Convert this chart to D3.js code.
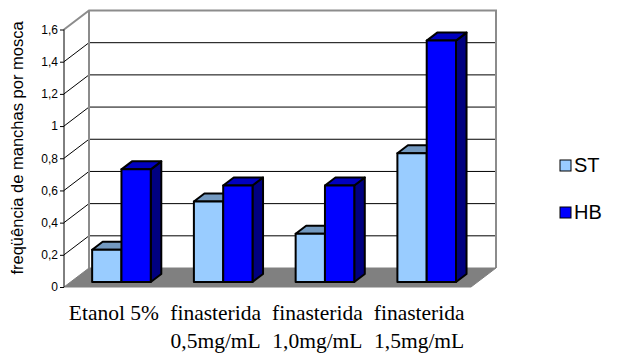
<!DOCTYPE html>
<html><head><meta charset="utf-8">
<script src="https://cdn.jsdelivr.net/npm/d3@7"></script>
<style>body{margin:0;background:#fff}svg{display:block}</style>
</head><body>
<svg id="c" width="619" height="354"></svg>
<script>
const categories = [["Etanol 5%"], ["finasterida","0,5mg/mL"], ["finasterida","1,0mg/mL"], ["finasterida","1,5mg/mL"]];
const seriesNames = ["ST", "HB"];
const stValues = [0.2, 0.5, 0.3, 0.8];
const hbValues = [0.7, 0.6, 0.6, 1.5];
const yTicks = [0, 0.2, 0.4, 0.6, 0.8, 1, 1.2, 1.4, 1.6];
const yTitle = "freqüência de manchas por mosca";

const colors = {
  ST: {front:"#99CCFF", top:"#7399C0", side:"#5B7A99"},
  HB: {front:"#0000FF", top:"#0000C0", side:"#000080"}
};
const values = {ST: stValues, HB: hbValues};

const svg = d3.select("#c");
const X0 = 64, X1 = 471;
const DEPTH = 19, DX = 25;
const kx = DX / DEPTH;
const x = d3.scaleBand().domain(d3.range(categories.length)).range([X0, X1]).padding(0);
const xi = d3.scaleBand().domain(seriesNames).range([0, x.bandwidth()]).paddingInner(0).paddingOuter(0.736);
const y = d3.scaleLinear().domain([0, 1.6]).range([287, 29.5]);
const P = (px, v, d) => [px + d * kx, y(v) - d];
const fmt = v => String(v).replace(".", ",");

// back wall
const wall = [P(X0,0,DEPTH), P(X0,1.6,DEPTH), P(X1,1.6,DEPTH), P(X1,0,DEPTH)];
svg.append("polygon").attr("points", wall.join(" ")).attr("fill", "#fff");
// gridlines on back wall
svg.selectAll(".grid").data(yTicks.filter(t => t > 0 && t < 1.6)).join("line")
  .attr("x1", d => P(X0,d,DEPTH)[0]).attr("y1", d => P(X0,d,DEPTH)[1])
  .attr("x2", d => P(X1,d,DEPTH)[0]).attr("y2", d => P(X1,d,DEPTH)[1])
  .attr("stroke", "#000").attr("stroke-width", 1);
// side wall diagonals
svg.selectAll(".diag").data(yTicks.filter(t => t > 0 && t < 1.6)).join("line")
  .attr("x1", d => P(X0,d,0)[0]).attr("y1", d => P(X0,d,0)[1])
  .attr("x2", d => P(X0,d,DEPTH)[0]).attr("y2", d => P(X0,d,DEPTH)[1])
  .attr("stroke", "#000").attr("stroke-width", 1);
// wall frame (gray)
const frame = [P(X0,1.6,0), P(X0,1.6,DEPTH), P(X1,1.6,DEPTH), P(X1,0,DEPTH)];
svg.append("polyline").attr("points", frame.join(" ")).attr("fill", "none")
  .attr("stroke", "#8c8c8c").attr("stroke-width", 2);
svg.append("line").attr("x1", P(X0,0,DEPTH)[0]).attr("y1", P(X0,0,DEPTH)[1])
  .attr("x2", P(X0,1.6,DEPTH)[0]).attr("y2", P(X0,1.6,DEPTH)[1])
  .attr("stroke", "#8c8c8c").attr("stroke-width", 2);
// floor
const floor = [P(X0,0,0), P(X0,0,DEPTH), P(X1,0,DEPTH), P(X1,0,0)];
svg.append("polygon").attr("points", floor.join(" ")).attr("fill", "#808080")
  .attr("stroke", "#808080").attr("stroke-width", 1);
// front axis
svg.append("line").attr("x1", X0).attr("x2", X0).attr("y1", y(1.6)).attr("y2", y(0))
  .attr("stroke", "#000").attr("stroke-width", 1);
const yAxis = d3.axisLeft(y).tickValues(yTicks).tickFormat(fmt).tickSize(4).tickPadding(2);
const ga = svg.append("g").attr("transform", `translate(${X0},0)`).call(yAxis);
ga.select(".domain").remove();
ga.selectAll("text").attr("font-family", "Liberation Sans, Arial, sans-serif").attr("font-size", 12).attr("fill", "#000");
ga.selectAll("line").attr("stroke", "#000");

// bars
const BD0 = 5, BD1 = 13;
categories.forEach((c, i) => {
  seriesNames.forEach(s => {
    const v = values[s][i];
    const xl = x(i) + xi(s), xr = xl + xi.bandwidth();
    const col = colors[s];
    const g = svg.append("g").attr("stroke", "#000").attr("stroke-width", 2).attr("stroke-linejoin", "round");
    const front = [P(xl,0,BD0), P(xl,v,BD0), P(xr,v,BD0), P(xr,0,BD0)];
    const top = [P(xl,v,BD0), P(xl,v,BD1), P(xr,v,BD1), P(xr,v,BD0)];
    const side = [P(xr,0,BD0), P(xr,v,BD0), P(xr,v,BD1), P(xr,0,BD1)];
    g.append("polygon").attr("points", side.join(" ")).attr("fill", col.side);
    g.append("polygon").attr("points", top.join(" ")).attr("fill", col.top);
    g.append("polygon").attr("points", front.join(" ")).attr("fill", col.front);
  });
});

// x labels
categories.forEach((c, i) => {
  const cx = x(i) + x.bandwidth()/2 - 1;
  const t = svg.append("text").attr("x", cx).attr("y", 320)
    .attr("text-anchor", "middle").attr("font-family", "Liberation Serif, Times New Roman, serif")
    .attr("font-size", 21.5).attr("fill", "#000");
  c.forEach((line, k) => t.append("tspan").attr("x", cx).attr("dy", k ? 28 : 0).text(line));
});

// y title
svg.append("text").attr("transform", "translate(23,148) rotate(-90)").attr("text-anchor", "middle")
  .attr("font-family", "Liberation Sans, Arial, sans-serif").attr("font-size", 16.5).attr("fill", "#000").text(yTitle);

// legend
const lg = svg.selectAll(".leg").data(seriesNames).join("g").attr("transform", (d, k) => `translate(560,${160 + k*47})`);
lg.append("rect").attr("width", 11).attr("height", 11).attr("fill", d => colors[d].front).attr("stroke", "#000").attr("stroke-width", 1);
lg.append("text").attr("x", 14).attr("y", 12).attr("font-family", "Liberation Sans, Arial, sans-serif")
  .attr("font-size", 20).attr("fill", "#000").text(d => d);
</script>
</body></html>
